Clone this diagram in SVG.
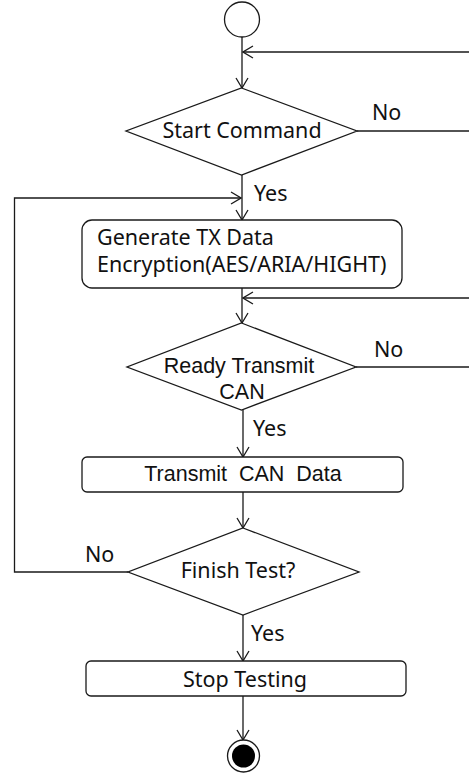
<svg xmlns="http://www.w3.org/2000/svg" width="469" height="774" viewBox="0 0 469 774">
  <style>
    .ln { fill: none; stroke: #1a1a1a; stroke-width: 1.3; }
    .shape { fill: #ffffff; stroke: #1a1a1a; stroke-width: 1.3; }
    .t { font-family: "Noto Sans", "Open Sans", sans-serif; font-size: 21.5px; fill: #111; }
    .g { font-family: "Liberation Sans", "DejaVu Sans", sans-serif; font-size: 21.5px; fill: #111; }
    .c { text-anchor: middle; }
  </style>
  <defs>
    <marker id="open" viewBox="0 0 12 14" refX="11" refY="7" markerWidth="12" markerHeight="14" markerUnits="userSpaceOnUse" orient="auto">
      <path d="M1,1 L11,7 L1,13" fill="none" stroke="#1a1a1a" stroke-width="1.3"/>
    </marker>
  </defs>

  <!-- connectors -->
  <g id="connectors">
    <line class="ln" x1="242" y1="37" x2="242" y2="88" marker-end="url(#open)"/>
    <line class="ln" x1="469" y1="52" x2="243" y2="52" marker-end="url(#open)"/>
    <line class="ln" x1="357" y1="131" x2="469" y2="131"/>
    <line class="ln" x1="242" y1="175" x2="242" y2="220" marker-end="url(#open)"/>
    <polyline class="ln" points="128,572 14.5,572 14.5,198 241,198" marker-end="url(#open)"/>
    <line class="ln" x1="242" y1="288" x2="242" y2="323" marker-end="url(#open)"/>
    <line class="ln" x1="469" y1="298" x2="243" y2="298" marker-end="url(#open)"/>
    <line class="ln" x1="356" y1="367" x2="469" y2="367"/>
    <line class="ln" x1="243" y1="410" x2="243" y2="457" marker-end="url(#open)"/>
    <line class="ln" x1="243" y1="492" x2="243" y2="528" marker-end="url(#open)"/>
    <line class="ln" x1="243" y1="615" x2="243" y2="661" marker-end="url(#open)"/>
    <line class="ln" x1="243" y1="696" x2="243" y2="740" marker-end="url(#open)"/>
    <text class="t" x="372" y="120">No</text>
    <text class="t" x="254" y="201">Yes</text>
    <text class="t" x="374" y="357">No</text>
    <text class="t" x="253" y="436">Yes</text>
    <text class="t" x="85" y="562">No</text>
    <text class="t" x="251" y="641">Yes</text>
  </g>

  <g id="start">
    <circle class="shape" cx="242" cy="19.5" r="17.5"/>
  </g>

  <g id="start-command">
    <polygon class="shape" points="241.5,88 357,131 241.5,175 126,131"/>
    <text class="t c" x="242" y="138">Start Command</text>
  </g>

  <g id="generate-tx">
    <rect class="shape" x="82" y="220" width="320" height="68" rx="10" ry="10"/>
    <text class="t" x="97" y="245">Generate TX Data</text>
    <text class="t" x="97" y="272">Encryption(AES/ARIA/HIGHT)</text>
  </g>

  <g id="ready-transmit">
    <polygon class="shape" points="241.5,323 356,367 241.5,410 127,367"/>
    <text class="g c" x="239" y="373">Ready Transmit</text>
    <text class="g c" x="242" y="399">CAN</text>
  </g>

  <g id="transmit-can">
    <rect class="shape" x="82" y="457" width="321" height="35" rx="5" ry="5"/>
    <text class="g c" x="243" y="481" xml:space="preserve">Transmit  CAN  Data</text>
  </g>

  <g id="finish-test">
    <polygon class="shape" points="243,528 359,572 243,615 128,572"/>
    <text class="t c" x="238" y="578">Finish Test?</text>
  </g>

  <g id="stop-testing">
    <rect class="shape" x="86" y="661" width="320" height="35" rx="5" ry="5"/>
    <text class="t c" x="245" y="687">Stop Testing</text>
  </g>

  <g id="end">
    <circle class="shape" cx="243.5" cy="756" r="16" stroke-width="1.6"/>
    <circle cx="243.5" cy="756" r="11.5" fill="#000"/>
  </g>
</svg>
